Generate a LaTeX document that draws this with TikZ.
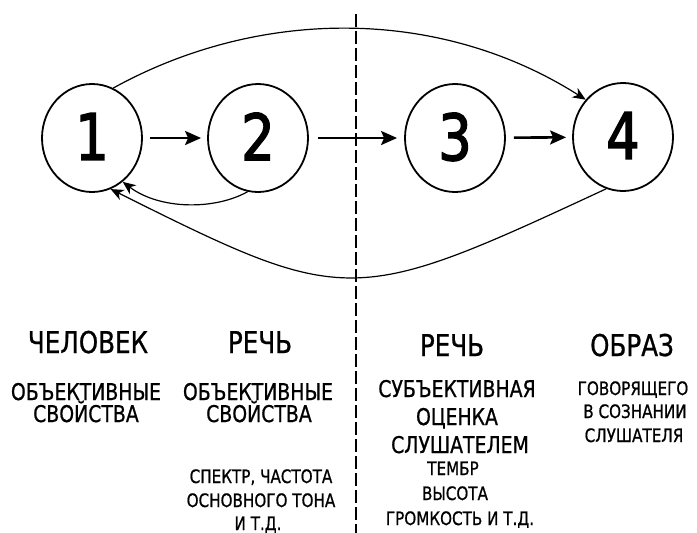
\documentclass[tikz,border=0pt]{standalone}
\usepackage{fontspec}
\setmainfont{DejaVu Sans}[FakeStretch=0.82,FakeBold=0.8]
\usetikzlibrary{arrows.meta,shapes.geometric}
\begin{document}
\begin{tikzpicture}[x=1pt,y=-1pt,
  circ/.style={ellipse,draw,line width=1.8pt,minimum width=100pt,minimum height=108pt,inner sep=0pt,font=\fontsize{64}{64}\selectfont\addfontfeature{FakeBold=2.2}},
  fwd/.style={line width=2.6pt,-{Stealth[length=16pt,width=14pt,inset=3pt]}},
  arcline/.style={line width=1.2pt,-{Stealth[length=13pt,width=11pt,inset=4pt]}},
  divider/.style={line width=2.4pt,dash pattern=on 13pt off 4pt},
  big/.style={anchor=base,inner sep=0pt,font=\fontsize{30}{30}\selectfont},
  mid/.style={anchor=base,inner sep=0pt,font=\fontsize{23}{23}\selectfont},
  small/.style={anchor=base,inner sep=0pt,font=\fontsize{18.5}{18.5}\selectfont}]
\useasboundingbox[fill=white] (0,0) rectangle (697,533);

% divider
\coordinate (dtop) at (356,14);
\coordinate (dbot) at (356,533);
\draw[divider] (dtop) -- (dbot);

% circles
\node[circ] (c1) at (92,138) {\raisebox{3pt}{1}};
\node[circ] (c2) at (258,138) {\raisebox{3pt}{2}};
\node[circ] (c3) at (455,138) {\raisebox{3pt}{3}};
\node[circ] (c4) at (623,137) {\raisebox{3pt}{4}};

% straight arrows
\draw[fwd,shorten <=7pt,shorten >=6pt] (c1) -- (c2);
\draw[fwd,shorten <=9pt,shorten >=7pt] (c2) -- (c3);
\draw[fwd,shorten <=8pt,shorten >=6pt] (c3) -- (c4);

% arcs
\draw[arcline] (c1.67) .. controls (260,7) and (440,7) .. (c4.135);
\draw[arcline] (c4.252) .. controls (352,307) and (347,307) .. (c1.290);
\draw[arcline] (c2.259) .. controls (215,210) and (160,210) .. (c1.305);

% column 1
\node[big] (t1) at (88,353) {ЧЕЛОВЕК};
\node[mid] (t1a) at (86,400) {ОБЪЕКТИВНЫЕ};
\node[mid] (t1b) at (86,422) {СВОЙСТВА};

% column 2
\node[big] (t2) at (260,353) {РЕЧЬ};
\node[mid] (t2a) at (258,400) {ОБЪЕКТИВНЫЕ};
\node[mid] (t2b) at (259,422) {СВОЙСТВА};
\node[small] (t2c) at (261,483) {СПЕКТР, ЧАСТОТА};
\node[small] (t2d) at (261,507) {ОСНОВНОГО ТОНА};
\node[small] (t2e) at (258,530) {И Т.Д.};

% column 3
\node[big] (t3) at (452,356) {РЕЧЬ};
\node[mid] (t3a) at (457,397) {СУБЪЕКТИВНАЯ};
\node[mid] (t3b) at (457,425) {ОЦЕНКА};
\node[mid] (t3c) at (460,453) {СЛУШАТЕЛЕМ};
\node[small] (t3d) at (453,475) {ТЕМБР};
\node[small] (t3e) at (455,500) {ВЫСОТА};
\node[small] (t3f) at (460,525) {ГРОМКОСТЬ И Т.Д.};

% column 4
\node[big] (t4) at (632,356) {ОБРАЗ};
\node[small] (t4a) at (633,395) {ГОВОРЯЩЕГО};
\node[small] (t4b) at (635,418) {В СОЗНАНИИ};
\node[small] (t4c) at (634,442) {СЛУШАТЕЛЯ};
\end{tikzpicture}
\end{document}
